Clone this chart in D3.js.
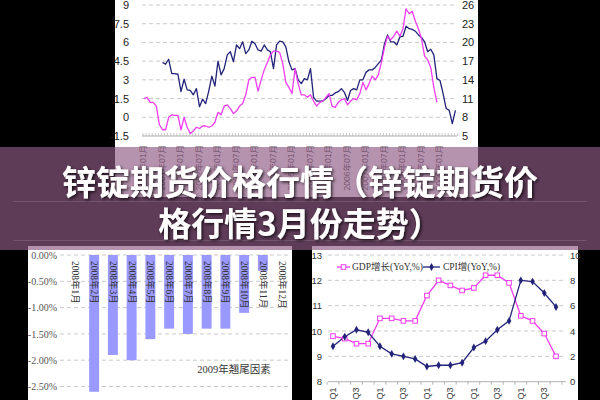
<!DOCTYPE html>
<html><head><meta charset="utf-8">
<script src="https://cdn.jsdelivr.net/npm/d3@7"></script>
<style>html,body{margin:0;padding:0;background:#000;}svg{display:block;}</style>
</head><body>
<svg id="c" width="600" height="400"></svg>
<script>
// ---------- DATA ----------
// Top chart: monthly, index 0 = 2001-01
const topTickLabels = ["2001年01月","2001年07月","2002年01月","2002年07月","2003年01月","2003年07月","2004年01月","2004年07月","2005年01月","2005年07月","2006年01月","2006年07月","2007年01月","2007年07月","2008年01月","2008年07月","2009年01月"];
const leftTicks = [-1.5,0,1.5,3,4.5,6,7.5,9];
const rightTicks = [5,8,11,14,17,20,23,26];
const cpiMonthly = [
 1.5,1.6,1.2,1.2,0.9,-0.6,-1.0,-1.0,0.0,0.2,0.15,0.15,
 -1.0,0.0,-0.8,-1.3,-1.1,-0.8,-0.9,-0.7,-0.7,-0.8,-0.7,-0.4,
 0.4,0.2,0.9,1.0,0.7,0.3,0.5,0.9,1.1,1.8,3.0,3.2,
 3.2,2.1,3.0,3.8,4.4,5.0,5.3,5.3,5.2,4.3,2.8,2.4,
 1.9,3.9,2.7,1.8,1.8,1.6,1.8,1.3,0.9,1.2,1.3,1.6,
 1.9,0.9,0.8,1.2,1.4,1.5,1.0,1.3,1.5,1.4,1.9,2.8,
 2.2,2.7,3.3,3.0,3.4,4.4,5.6,6.5,6.2,6.5,6.9,6.5,
 7.1,8.7,8.3,8.5,7.7,7.1,6.3,4.9,4.6,4.0,2.4,1.2];
const darkStart = 6; // first month index of the right-axis series
const darkMonthly = [
 16.8,16.5,17.3,15.0,15.0,14.9,
 12.1,14.1,12.4,12.3,11.6,12.6,9.7,10.9,10.2,12.2,14.6,13.0,
 17.0,14.8,15.8,18.0,18.5,16.9,19.6,19.0,20.1,18.2,18.8,20.2,
 19.8,18.8,18.6,19.6,18.8,18.5,15.8,19.6,20.2,20.1,19.3,16.9,
 15.6,15.8,14.0,13.4,14.2,14.0,15.8,11.2,10.6,10.6,10.6,11.0,
 11.5,11.5,11.9,12.1,12.6,12.0,10.7,12.3,12.6,12.4,14.0,14.0,
 15.2,15.6,15.6,16.0,16.6,17.2,19.8,21.2,20.1,20.1,19.6,20.9,
 21.0,22.6,22.2,22.1,21.8,21.2,20.8,20.1,18.5,18.9,18.0,14.2,
 13.9,11.8,9.4,9.1,7.0,9.1];

// Bottom-left bar chart
const tailMonths = ["2008年1月","2008年2月","2008年3月","2008年4月","2008年5月","2008年6月","2008年7月","2008年8月","2008年9月","2008年10月","2008年11月","2008年12月"];
const tailValues = [0,-2.6,-1.9,-2.0,-1.6,-1.4,-1.5,-1.4,-1.4,-1.1,-0.3,0];
const tailTicks = [0,-0.5,-1.0,-1.5,-2.0,-2.5];
const tailNote = "2009年翘尾因素";

// Bottom-right quarterly chart (2004Q1 .. 2008Q4)
const quarters = ["2004Q1","2004Q2","2004Q3","2004Q4","2005Q1","2005Q2","2005Q3","2005Q4","2006Q1","2006Q2","2006Q3","2006Q4","2007Q1","2007Q2","2007Q3","2007Q4","2008Q1","2008Q2","2008Q3","2008Q4"];
const quarterTickText = ["Q1","Q2","Q3","Q4"];
const gdpQ = [9.8,9.7,9.5,9.5,10.5,10.5,10.4,10.4,11.4,12.0,11.8,11.6,11.7,12.2,12.2,11.9,10.6,10.4,9.9,9.0];
const cpiQ = [2.8,3.55,4.1,3.9,2.8,2.2,2.0,1.8,1.2,1.3,1.3,1.5,2.7,3.2,4.1,4.8,8.0,7.9,7.0,5.9];
const qLeftTicks = [8,9,10,11,12,13];
const qRightTicks = [0,2,4,6,8,10];
const legendNames = ["GDP增长(YoY,%)","CPI增(YoY,%)"];

const titleLines = ["锌锭期货价格行情（锌锭期货价","格行情3月份走势）"];

// ---------- DRAW ----------
const svg = d3.select("#c");
const PINK = "#f03cf0", NAVY = "#23237a", GRID = "#bdbdbd";
const SANS = "'Liberation Sans', Arial, 'Noto Sans CJK SC', sans-serif";
const SERIF = "'Liberation Serif', 'DejaVu Serif', 'Noto Sans CJK SC', serif";

svg.append("rect").attr("width",600).attr("height",400).attr("fill","#000");

// ===== Top chart =====
const topG = svg.append("g");
topG.append("rect").attr("x",115).attr("y",0).attr("width",363).attr("height",197).attr("fill","#fff");
const xT = d3.scaleLinear().domain([0,96]).range([144,440]);
const yL = d3.scaleLinear().domain([-1.5,9]).range([136,5]);
const yR = d3.scaleLinear().domain([5,26]).range([136,5]);
const pL = 142, pR = 457;
topG.append("g").selectAll("line").data(leftTicks.filter(d=>d>-1.5)).join("line")
  .attr("x1",pL).attr("x2",pR).attr("y1",d=>yL(d)).attr("y2",d=>yL(d))
  .attr("stroke",GRID).attr("stroke-dasharray","4,3").attr("stroke-width",0.8);
topG.append("line").attr("x1",pL).attr("x2",pR).attr("y1",yL(-1.5)).attr("y2",yL(-1.5)).attr("stroke","#999").attr("stroke-width",0.8);
topG.append("g").selectAll("line").data(d3.range(0,103)).join("line")
  .attr("x1",d=>xT(d)-1).attr("x2",d=>xT(d)-1).attr("y1",yL(-1.5)-3).attr("y2",yL(-1.5))
  .attr("stroke","#aaa").attr("stroke-width",0.6);
const axL = topG.append("g").attr("transform",`translate(${pL},0)`)
  .call(d3.axisLeft(yL).tickValues(leftTicks).tickSize(0).tickPadding(13).tickFormat(d=>String(d)));
const axR = topG.append("g").attr("transform",`translate(${pR},0)`)
  .call(d3.axisRight(yR).tickValues(rightTicks).tickSize(0).tickPadding(5).tickFormat(d=>String(d)));
[axL,axR].forEach(a=>{a.select(".domain").remove();a.selectAll("text").attr("font-family",SANS).attr("font-size",11).attr("fill","#222");});
topG.append("g").selectAll("text").data(topTickLabels).join("text")
  .attr("transform",(d,i)=>`translate(${xT(i*6)-1},145) rotate(-90)`)
  .attr("text-anchor","end").attr("dominant-baseline","central")
  .attr("font-family",SANS).attr("font-size",8.5).attr("fill","#555").text(d=>d);
const lineT = d3.line().x(d=>xT(d.m)).y(d=>d.y);
topG.append("path").datum(darkMonthly.map((v,i)=>({m:i+darkStart,y:yR(v)})))
  .attr("d",lineT).attr("fill","none").attr("stroke",NAVY).attr("stroke-width",1.3).attr("stroke-linejoin","round");
topG.append("path").datum(cpiMonthly.map((v,i)=>({m:i,y:yL(v)})))
  .attr("d",lineT).attr("fill","none").attr("stroke",PINK).attr("stroke-width",1.3).attr("stroke-linejoin","round");

// ===== Bottom-left bar chart =====
const bl = svg.append("g");
bl.append("rect").attr("x",28).attr("y",246).attr("width",264).attr("height",154).attr("fill","#fff");
const xB = d3.scaleBand().domain(tailMonths).range([66,291]).paddingInner(0.47).paddingOuter(0.235);
const yB = d3.scaleLinear().domain([-3,0]).range([412.8,255]);
bl.append("g").selectAll("line").data(tailTicks).join("line")
  .attr("x1",60).attr("x2",291).attr("y1",d=>yB(d)).attr("y2",d=>yB(d))
  .attr("stroke",GRID).attr("stroke-dasharray","4,3").attr("stroke-width",0.8);
const axB = bl.append("g").attr("transform","translate(60,0)")
  .call(d3.axisLeft(yB).tickValues(tailTicks).tickSize(0).tickPadding(3).tickFormat(d=>d.toFixed(2)+"%"));
axB.select(".domain").remove();
axB.selectAll("text").attr("font-family",SERIF).attr("font-size",10).attr("fill","#555");
bl.append("g").selectAll("rect").data(tailMonths).join("rect")
  .attr("x",d=>xB(d)).attr("width",xB.bandwidth())
  .attr("y",yB(0)).attr("height",(d,i)=>yB(tailValues[i])-yB(0))
  .attr("fill","#9999ff");
bl.append("g").selectAll("text").data(tailMonths).join("text")
  .attr("transform",d=>`translate(${xB(d)+xB.bandwidth()/2},261) rotate(90)`)
  .attr("text-anchor","start").attr("dominant-baseline","central")
  .attr("font-family",SERIF).attr("font-size",9.5).attr("fill","#333").text(d=>d);
bl.append("text").attr("x",234).attr("y",369).attr("text-anchor","middle").attr("dominant-baseline","central")
  .attr("font-family",SERIF).attr("font-size",10.5).attr("fill","#333").text(tailNote);

// ===== Bottom-right quarterly chart =====
const br = svg.append("g");
br.append("rect").attr("x",312).attr("y",246).attr("width",266).attr("height",154).attr("fill","#fff");
const xQ = d3.scalePoint().domain(quarters).range([333,556]);
const yQL = d3.scaleLinear().domain([8,13]).range([381.7,255]);
const yQR = d3.scaleLinear().domain([0,10]).range([381.7,255]);
br.append("g").selectAll("line").data(qLeftTicks.filter(d=>d>8)).join("line")
  .attr("x1",328).attr("x2",566).attr("y1",d=>yQL(d)).attr("y2",d=>yQL(d))
  .attr("stroke",GRID).attr("stroke-dasharray","4,3").attr("stroke-width",0.8);
br.append("line").attr("x1",328).attr("x2",566).attr("y1",yQL(8)).attr("y2",yQL(8)).attr("stroke","#999").attr("stroke-width",0.8);
br.append("g").selectAll("line").data(quarters.concat(["end"])).join("line")
  .attr("x1",(d,i)=>xQ(quarters[0])+(i-0.5)*xQ.step()).attr("x2",(d,i)=>xQ(quarters[0])+(i-0.5)*xQ.step())
  .attr("y1",yQL(8)).attr("y2",yQL(8)+3).attr("stroke","#999").attr("stroke-width",0.7);
const axQL = br.append("g").attr("transform","translate(328,0)")
  .call(d3.axisLeft(yQL).tickValues(qLeftTicks).tickSize(0).tickPadding(6).tickFormat(d=>String(d)));
const axQR = br.append("g").attr("transform","translate(566,0)")
  .call(d3.axisRight(yQR).tickValues(qRightTicks).tickSize(0).tickPadding(4).tickFormat(d=>String(d)));
[axQL,axQR].forEach(a=>{a.select(".domain").remove();a.selectAll("text").attr("font-family",SANS).attr("font-size",9.5).attr("fill","#333");});
br.append("g").selectAll("text").data(quarters.filter((d,i)=>i%2===0)).join("text")
  .attr("transform",d=>`translate(${xQ(d)},387.5) rotate(-90)`)
  .attr("text-anchor","end").attr("dominant-baseline","central")
  .attr("font-family",SANS).attr("font-size",9).attr("fill","#333")
  .text(d=>quarterTickText[quarters.indexOf(d)%4]);
const lq = d3.line().x(d=>d.x).y(d=>d.y);
br.append("path").datum(quarters.map((q,i)=>({x:xQ(q),y:yQL(gdpQ[i])})))
  .attr("d",lq).attr("fill","none").attr("stroke",PINK).attr("stroke-width",1.3);
br.append("path").datum(quarters.map((q,i)=>({x:xQ(q),y:yQR(cpiQ[i])})))
  .attr("d",lq).attr("fill","none").attr("stroke",NAVY).attr("stroke-width",1.3);
br.append("g").selectAll("rect").data(quarters).join("rect")
  .attr("x",(d,i)=>xQ(d)-2.3).attr("y",(d,i)=>yQL(gdpQ[i])-2.3).attr("width",4.6).attr("height",4.6)
  .attr("fill","#fff").attr("stroke",PINK).attr("stroke-width",1);
const diamond = d3.symbol().type(d3.symbolDiamond).size(18);
br.append("g").selectAll("path").data(quarters).join("path")
  .attr("transform",(d,i)=>`translate(${xQ(d)},${yQR(cpiQ[i])})`).attr("d",diamond).attr("fill",NAVY);
// legend
const lg = br.append("g");
lg.append("line").attr("x1",337).attr("x2",350).attr("y1",267).attr("y2",267).attr("stroke",PINK).attr("stroke-width",1.3);
lg.append("rect").attr("x",341.2).attr("y",264.7).attr("width",4.6).attr("height",4.6).attr("fill","#fff").attr("stroke",PINK);
lg.append("text").attr("x",352).attr("y",267).attr("dominant-baseline","central").attr("font-family",SERIF).attr("font-size",9.5).attr("fill","#333").text(legendNames[0]);
lg.append("line").attr("x1",423).attr("x2",440).attr("y1",267).attr("y2",267).attr("stroke",NAVY).attr("stroke-width",1.3);
lg.append("path").attr("transform","translate(431.5,267)").attr("d",diamond).attr("fill",NAVY);
lg.append("text").attr("x",443).attr("y",267).attr("dominant-baseline","central").attr("font-family",SERIF).attr("font-size",9.5).attr("fill","#333").text(legendNames[1]);

// ===== Banner overlay =====
const defs = svg.append("defs");
const f = defs.append("filter").attr("id","sh").attr("x","-10%").attr("y","-30%").attr("width","120%").attr("height","160%");
f.append("feDropShadow").attr("dx",1.5).attr("dy",1.5).attr("stdDeviation",1.6).attr("flood-color","#000").attr("flood-opacity",0.75);
svg.append("rect").attr("x",0).attr("y",147).attr("width",600).attr("height",103).attr("fill","#8f5a84").attr("opacity",0.66);
svg.append("g").selectAll("line").data([201.5,240.5]).join("line")
  .attr("x1",13).attr("x2",587).attr("y1",d=>d).attr("y2",d=>d).attr("stroke","#fff").attr("stroke-opacity",0.13);
svg.append("g").attr("filter","url(#sh)").selectAll("text").data(titleLines).join("text")
  .attr("x",300).attr("y",(d,i)=>180+i*42).attr("text-anchor","middle").attr("dominant-baseline","central")
  .attr("font-family","'Noto Sans CJK SC', sans-serif").attr("font-weight",700).attr("font-size",(d,i)=>i===0?34:33)
  .attr("fill","#fff").text(d=>d);
</script>
</body></html>
